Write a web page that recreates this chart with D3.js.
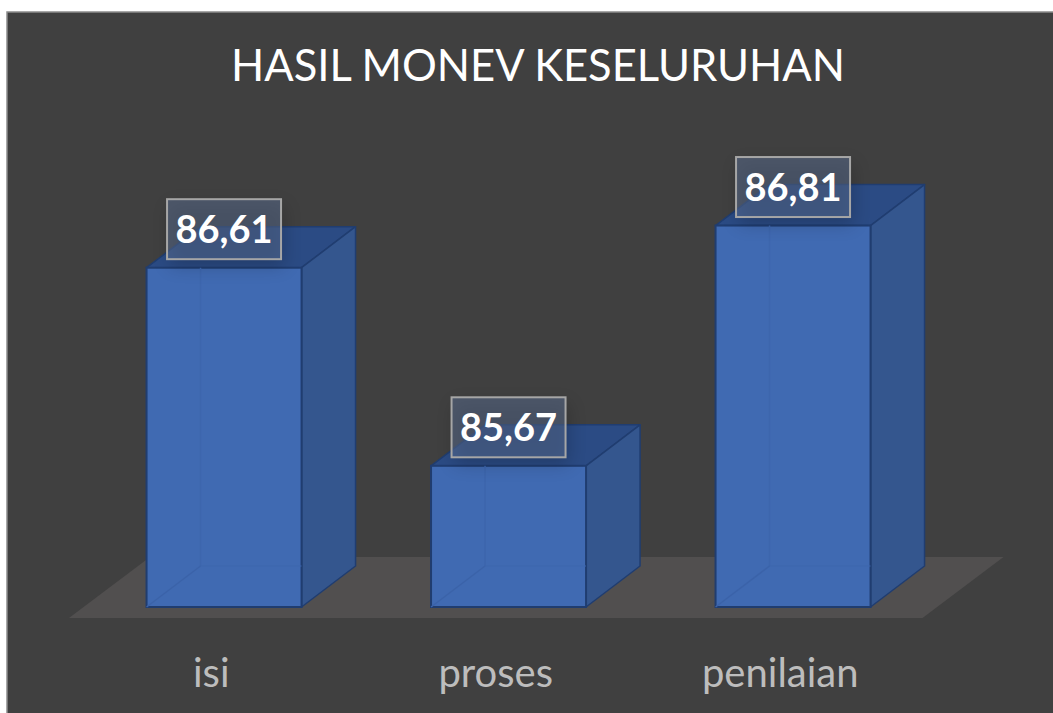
<!DOCTYPE html>
<html><head><meta charset="utf-8">
<script src="https://cdn.jsdelivr.net/npm/d3@7"></script>
<style>html,body{margin:0;padding:0;background:#fff;overflow:hidden}svg{display:block}</style>
</head><body><svg id="c" width="1053" height="713"></svg>
<script>
const categories = ["isi", "proses", "penilaian"];
const values = [86.61, 85.67, 86.81];
const labels = ["86,61", "85,67", "86,81"];
const titleText = "HASIL MONEV KESELURUHAN";

const svg = d3.select("#c");
const font = "Lato, 'Open Sans', sans-serif";
const depthX = 54, depthY = -41;
const x = d3.scaleBand().domain(categories).range([69, 922.5]);
const y = d3.scaleLinear().domain([85, 87]).range([607, 185.5]);
const barW = 155, barShift = 12.8;

const defs = svg.append("defs");
const blur = defs.append("filter").attr("id", "sh").attr("x", "-30%").attr("y", "-30%").attr("width", "160%").attr("height", "160%");
blur.append("feGaussianBlur").attr("stdDeviation", 9);

svg.append("rect").attr("x", 7).attr("y", 12).attr("width", 1047).attr("height", 702)
  .attr("fill", "#404040").attr("stroke", "#8c8c8c").attr("stroke-width", 1.5);

svg.append("text").attr("x", 538).attr("y", 81).attr("text-anchor", "middle")
  .attr("font-family", font).attr("font-size", 43.5).attr("fill", "#fff").text(titleText);

// floor
const fy = 618, fTop = 557;
svg.append("polygon").attr("fill", "#514f4f").attr("points", [
  [x.range()[0], fy], [x.range()[1], fy], [x.range()[1] + 81, fTop], [x.range()[0] + 81, fTop]
].join(" "));

const pts = a => a.map(p => p.join(",")).join(" ");
const edge = "#203d70";
const g = svg.selectAll("g.bar").data(categories).join("g").attr("class", "bar");
g.each(function (c, i) {
  const s = d3.select(this);
  const x0 = x(c) + x.bandwidth() / 2 + barShift - barW / 2, x1 = x0 + barW;
  const yt = y(values[i]), yb = y(85);
  // top
  s.append("polygon").attr("points", pts([[x0, yt], [x1, yt], [x1 + depthX, yt + depthY], [x0 + depthX, yt + depthY]]))
    .attr("fill", "#2b4b84").attr("stroke", edge).attr("stroke-width", 1.5).attr("stroke-linejoin", "round");
  // side
  s.append("polygon").attr("points", pts([[x1, yt], [x1 + depthX, yt + depthY], [x1 + depthX, yb + depthY], [x1, yb]]))
    .attr("fill", "#34568e").attr("stroke", edge).attr("stroke-width", 1.5).attr("stroke-linejoin", "round");
  // front
  s.append("rect").attr("x", x0).attr("y", yt).attr("width", barW).attr("height", yb - yt)
    .attr("fill", "#406ab2").attr("stroke", edge).attr("stroke-width", 2);
  // faint inner edges seen through the front
  const faint = "#3d66ad";
  s.append("line").attr("x1", x0 + depthX).attr("x2", x0 + depthX).attr("y1", yt).attr("y2", yb + depthY)
    .attr("stroke", faint).attr("stroke-width", 1.5);
  s.append("line").attr("x1", x0 + depthX).attr("x2", x1).attr("y1", yb + depthY).attr("y2", yb + depthY)
    .attr("stroke", faint).attr("stroke-width", 1);
  s.append("line").attr("x1", x0).attr("x2", x0 + depthX).attr("y1", yb).attr("y2", yb + depthY)
    .attr("stroke", "#3b63a9").attr("stroke-width", 1.5);
});

// category labels
svg.selectAll("text.cat").data(categories).join("text").attr("class", "cat")
  .attr("x", d => x(d) + x.bandwidth() / 2).attr("y", 687).attr("text-anchor", "middle")
  .attr("font-family", font).attr("font-size", 40).attr("fill", "#bdbdbd").text(d => d);

// data labels
const boxW = 114, boxH = 60;
const lab = svg.selectAll("g.lab").data(categories).join("g").attr("class", "lab")
  .attr("transform", (c, i) => `translate(${x(c) + x.bandwidth() / 2 + barShift},${y(values[i]) - 38.5})`);
lab.append("rect").attr("x", -boxW / 2 + 3).attr("y", -boxH / 2 + 7).attr("width", boxW).attr("height", boxH)
  .attr("fill", "#000").attr("opacity", 0.2).attr("filter", "url(#sh)");
lab.append("rect").attr("x", -boxW / 2).attr("y", -boxH / 2).attr("width", boxW).attr("height", boxH)
  .attr("fill", "#5a6d92").attr("fill-opacity", 0.5).attr("stroke", "#a6a6a6").attr("stroke-width", 2);
lab.append("text").attr("text-anchor", "middle").attr("y", 14).attr("font-family", font)
  .attr("font-weight", 700).attr("font-size", 38).attr("fill", "#fff").text((c, i) => labels[i]);
</script></body></html>
